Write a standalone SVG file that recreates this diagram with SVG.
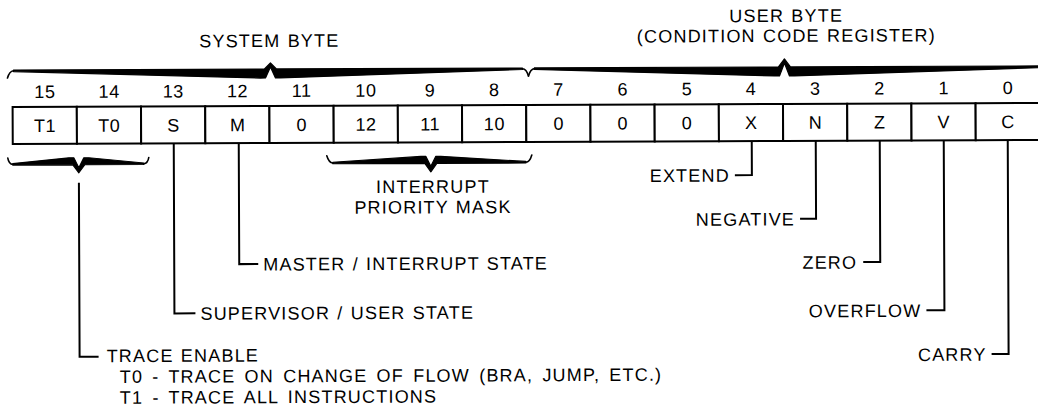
<svg xmlns="http://www.w3.org/2000/svg" width="1038" height="410" viewBox="0 0 1038 410">
<style>
text{font-family:"Liberation Sans",Arial,Helvetica,sans-serif;fill:#000;}
.bit{font-size:18px;text-anchor:middle;letter-spacing:0.6px;}
.cell{font-size:18px;text-anchor:middle;letter-spacing:0.6px;}
.lbl{font-size:18px;letter-spacing:1.2px;word-spacing:1px;}
.ctr{text-anchor:middle;}
.end{text-anchor:end;}
.box{fill:#fff;stroke:#000;stroke-width:2;}
.ln{fill:none;stroke:#000;stroke-width:2;}
.br{fill:#000;stroke:#000;stroke-width:1.2;stroke-linejoin:round;}
.curl{fill:none;stroke:#000;stroke-width:1.6;stroke-linecap:round;}
</style>
<rect width="1038" height="410" fill="#fff"/>
<g transform="rotate(-0.23 519 205)">
<g id="headers">
<text class="lbl ctr" x="270" y="46">SYSTEM BYTE</text>
<text class="lbl ctr" x="787" y="23">USER BYTE</text>
<text class="lbl ctr" x="787" y="43">(CONDITION CODE REGISTER)</text>
</g>
<g id="braces">
<g id="brace-system">
<path class="br" d="M14,68 L265,68 L271,62 L277,68 L523,68 L523,69.5 L281,77 L276,77 L271,66 L266,77 L261,77 L14,69.5 Z"/>
<path class="curl" d="M14,68.7 Q10,69 8,76 M523,68.7 Q527,69 529,76"/>
</g>
<g id="brace-user">
<path class="br" d="M535,68 L779,68 L785,60 L791,68 L1050,68 L1050,69.5 L795,77 L790,77 L785,64 L780,77 L775,77 L535,69.5 Z"/>
<path class="curl" d="M535,68.7 Q531,69 529,76"/>
</g>
<g id="brace-trace">
<path class="br" d="M13,163 L73,163 L79,171 L85,163 L144,163 L144,161.5 L89,156 L84,156 L79,166 L74,156 L69,156 L13,161.5 Z"/>
<path class="curl" d="M13,162.3 Q9,162 8,156 M144,162.3 Q148,162 149,156"/>
</g>
<g id="brace-ipm">
<path class="br" d="M333,163 L425,163 L431,171.5 L437,163 L526,163 L526,161.5 L441,156 L436,156 L431,166 L426,156 L421,156 L333,161.5 Z"/>
<path class="curl" d="M333,162.3 Q329,162 327,155 M526,162.3 Q530,162 532,155"/>
</g>
</g>
<g id="register">
<g id="bit15"><rect class="box" x="13" y="105" width="64.2" height="37"/><text class="bit" x="45.4" y="96">15</text><text class="cell" x="45.4" y="130">T1</text></g>
<g id="bit14"><rect class="box" x="77.2" y="105" width="64.2" height="37"/><text class="bit" x="109.6" y="96">14</text><text class="cell" x="109.6" y="130">T0</text></g>
<g id="bit13"><rect class="box" x="141.4" y="105" width="64.2" height="37"/><text class="bit" x="173.8" y="96">13</text><text class="cell" x="173.8" y="130">S</text></g>
<g id="bit12"><rect class="box" x="205.6" y="105" width="64.2" height="37"/><text class="bit" x="238" y="96">12</text><text class="cell" x="238" y="130">M</text></g>
<g id="bit11"><rect class="box" x="269.8" y="105" width="64.2" height="37"/><text class="bit" x="302.2" y="96">11</text><text class="cell" x="302.2" y="130">0</text></g>
<g id="bit10"><rect class="box" x="334" y="105" width="64.2" height="37"/><text class="bit" x="366.4" y="96">10</text><text class="cell" x="366.4" y="130">12</text></g>
<g id="bit9"><rect class="box" x="398.2" y="105" width="64.2" height="37"/><text class="bit" x="430.6" y="96">9</text><text class="cell" x="430.6" y="130">11</text></g>
<g id="bit8"><rect class="box" x="462.4" y="105" width="64.2" height="37"/><text class="bit" x="494.8" y="96">8</text><text class="cell" x="494.8" y="130">10</text></g>
<g id="bit7"><rect class="box" x="526.6" y="105" width="64.2" height="37"/><text class="bit" x="559" y="96">7</text><text class="cell" x="559" y="130">0</text></g>
<g id="bit6"><rect class="box" x="590.8" y="105" width="64.2" height="37"/><text class="bit" x="623.2" y="96">6</text><text class="cell" x="623.2" y="130">0</text></g>
<g id="bit5"><rect class="box" x="655" y="105" width="64.2" height="37"/><text class="bit" x="687.4" y="96">5</text><text class="cell" x="687.4" y="130">0</text></g>
<g id="bit4"><rect class="box" x="719.2" y="105" width="64.2" height="37"/><text class="bit" x="751.6" y="96">4</text><text class="cell" x="751.6" y="130">X</text></g>
<g id="bit3"><rect class="box" x="783.4" y="105" width="64.2" height="37"/><text class="bit" x="815.8" y="96">3</text><text class="cell" x="815.8" y="130">N</text></g>
<g id="bit2"><rect class="box" x="847.6" y="105" width="64.2" height="37"/><text class="bit" x="880" y="96">2</text><text class="cell" x="880" y="130">Z</text></g>
<g id="bit1"><rect class="box" x="911.8" y="105" width="64.2" height="37"/><text class="bit" x="944.2" y="96">1</text><text class="cell" x="944.2" y="130">V</text></g>
<g id="bit0"><rect class="box" x="976" y="105" width="64.2" height="37"/><text class="bit" x="1008.4" y="96">0</text><text class="cell" x="1008.4" y="130">C</text></g>
</g>
<g id="connectors">
<path class="ln" d="M79,181 V355 H98"/>
<path class="ln" d="M174,142 V312 H195"/>
<path class="ln" d="M239,142 V263 H258"/>
<path class="ln" d="M752,142 V176 H735"/>
<path class="ln" d="M816,142 V220 H800"/>
<path class="ln" d="M880,142 V263.5 H863"/>
<path class="ln" d="M944,142 V312 H926"/>
<path class="ln" d="M1008,142 V356 H991"/>
</g>
<g id="label-ipm"><text class="lbl ctr" x="433" y="192.5">INTERRUPT</text><text class="lbl ctr" x="433" y="213">PRIORITY MASK</text></g>
<g id="label-master"><text class="lbl" x="263" y="269.5">MASTER / INTERRUPT STATE</text></g>
<g id="label-supervisor"><text class="lbl" x="200" y="318.5">SUPERVISOR / USER STATE</text></g>
<g id="label-trace"><text class="lbl" x="106" y="360.5">TRACE ENABLE</text><text class="lbl" x="119" y="381.3" style="word-spacing:3px">T0 - TRACE ON CHANGE OF FLOW (BRA, JUMP, ETC.)</text><text class="lbl" x="119" y="402.2" style="word-spacing:3px">T1 - TRACE ALL INSTRUCTIONS</text></g>
<g id="label-extend"><text class="lbl end" x="730" y="182.5">EXTEND</text></g>
<g id="label-negative"><text class="lbl end" x="795" y="226.5">NEGATIVE</text></g>
<g id="label-zero"><text class="lbl end" x="857" y="270">ZERO</text></g>
<g id="label-overflow"><text class="lbl end" x="921" y="318.5">OVERFLOW</text></g>
<g id="label-carry"><text class="lbl end" x="986" y="362.5">CARRY</text></g>
</g>
</svg>
